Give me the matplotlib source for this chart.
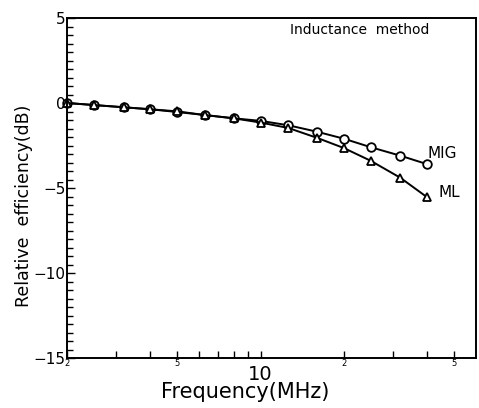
import numpy as np
import matplotlib
matplotlib.use('Agg')
from matplotlib import pyplot as plt
from matplotlib.ticker import FixedLocator, FixedFormatter

# Frecuencias (MHz) y eficiencia relativa (dB)
freq = [2, 2.5, 3.2, 4, 5, 6.3, 8, 10, 12.6, 16, 20, 25, 32, 40]
mig = [0, -0.12, -0.25, -0.37, -0.53, -0.71, -0.9, -1.05, -1.31, -1.69, -2.1, -2.6, -3.1, -3.6]
ml = [0, -0.12, -0.25, -0.37, -0.49, -0.71, -0.9, -1.15, -1.47, -2.05, -2.65, -3.4, -4.4, -5.55]

xmaj = [2, 5, 20, 50]
xmaj_lab = ['2', '5', '2', '5']
xmin = [3, 4, 6, 7, 8, 9, 10, 30, 40]
xmin_lab = ['', '', '', '', '', '', '10', '', '']
ymaj = [5, 0, -5, -10, -15]

fig = plt.figure(figsize=(4.79, 4.08), dpi=100)
ax = fig.add_axes([67 / 479, 1 - 358 / 408, 409 / 479, 340 / 408])

ax.plot(freq, mig, 'k-', lw=1.4, marker='o', ms=6.2, mfc='white', mec='black', mew=1.3, clip_on=False)
ax.plot(freq, ml, 'k-', lw=1.4, marker='^', ms=6, mfc='white', mec='black', mew=1.3, clip_on=False)

ax.set_xscale('log')
ax.set_xlim(2, 60)
ax.set_ylim(-15, 5)

ax.xaxis.set_major_locator(FixedLocator(xmaj))
ax.xaxis.set_major_formatter(FixedFormatter(xmaj_lab))
ax.xaxis.set_minor_locator(FixedLocator(xmin))
ax.xaxis.set_minor_formatter(FixedFormatter(xmin_lab))
ax.yaxis.set_major_locator(FixedLocator(ymaj))
ax.yaxis.set_minor_locator(FixedLocator(np.arange(-15, 5.01, 0.5)))

ax.tick_params(axis='x', which='major', direction='in', length=5, width=1, labelsize=6, pad=1)
ax.tick_params(axis='x', which='minor', direction='in', length=5, width=1, labelsize=14, pad=5)
ax.tick_params(axis='y', which='major', direction='in', length=6, width=1, labelsize=11, pad=1)
ax.tick_params(axis='y', which='minor', direction='in', length=4, width=1)

for s in ax.spines.values():
    s.set_linewidth(1.4)

ax.set_xlabel('Frequency(MHz)', fontsize=15)
ax.xaxis.set_label_coords(0.435, -0.072)
ax.xaxis.label.set_va('top')
ax.set_ylabel('Relative  efficiency(dB)', fontsize=12.5)
ax.yaxis.set_label_coords(-0.083, 0.447)

ax.text(0.545, 0.985, 'Inductance  method', transform=ax.transAxes, fontsize=10, va='top')
ax.text(freq[-1] * 1.0, mig[-1] + 0.6, 'MIG', fontsize=11, va='center', ha='left')
ax.text(freq[-1] * 1.1, ml[-1] + 0.3, 'ML', fontsize=11, va='center', ha='left')

plt.savefig('out.png', dpi=100)
